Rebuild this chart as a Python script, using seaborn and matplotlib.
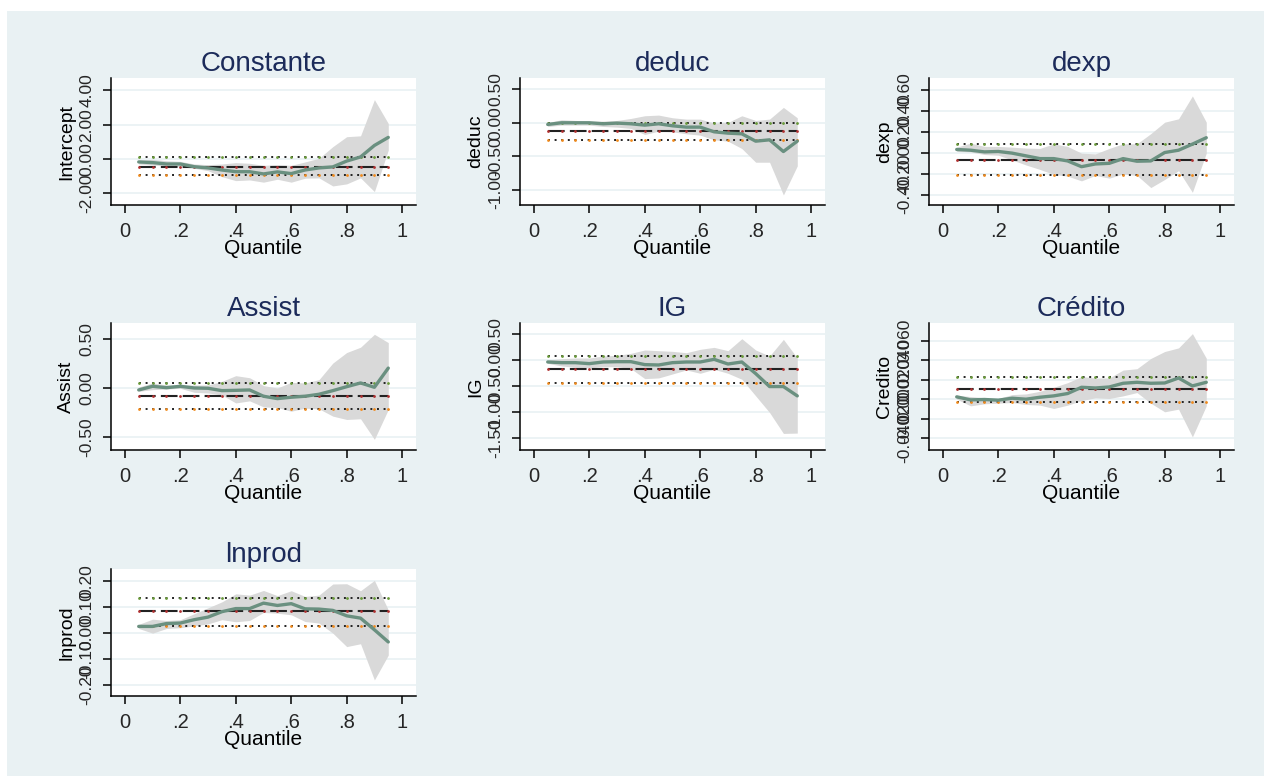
import matplotlib
matplotlib.use("Agg")
import matplotlib.pyplot as plt
import seaborn as sns
import pandas as pd
from matplotlib.patches import Rectangle

# --------------------------------------------------
# Data
# --------------------------------------------------
quantiles = [0.05, 0.10, 0.15, 0.20, 0.25, 0.30, 0.35, 0.40, 0.45, 0.50,
             0.55, 0.60, 0.65, 0.70, 0.75, 0.80, 0.85, 0.90, 0.95]

titles = ["Constante", "deduc", "dexp", "Assist", "IG", "Crédito", "lnprod"]
ylabels = ["Intercept", "deduc", "dexp", "Assist", "IG", "Credito", "lnprod"]

# quantile regression coefficients
const_coef = [-0.17, -0.21, -0.29, -0.29, -0.45, -0.52, -0.64, -0.74, -0.74, -0.87,
              -0.75, -0.85, -0.64, -0.52, -0.46, -0.12, 0.12, 0.79, 1.26]
const_lo = [-0.29, -0.35, -0.41, -0.45, -0.54, -0.68, -1.03, -1.26, -1.22, -1.35,
            -1.18, -1.35, -1.12, -1.10, -1.57, -1.45, -1.10, -1.90, 0.52]
const_hi = [-0.06, -0.02, -0.10, -0.14, -0.29, -0.33, -0.29, -0.21, -0.25, -0.37,
            -0.33, -0.37, -0.17, 0.04, 0.72, 1.30, 1.35, 3.46, 2.07]

deduc_coef = [-0.025, 0.0, 0.0, 0.0, -0.015, -0.005, -0.015, -0.035, -0.015, -0.045,
              -0.065, -0.065, -0.135, -0.155, -0.165, -0.275, -0.255, -0.43, -0.275]
deduc_lo = [-0.055, -0.035, -0.035, -0.035, -0.055, -0.065, -0.085, -0.175, -0.125, -0.135,
            -0.165, -0.185, -0.255, -0.275, -0.385, -0.59, -0.59, -1.08, -0.645]
deduc_hi = [0.005, 0.045, 0.035, 0.025, 0.025, 0.035, 0.065, 0.105, 0.115, 0.075,
            0.055, 0.055, -0.005, 0.005, 0.105, 0.035, 0.055, 0.23, 0.075]

dexp_coef = [0.029, 0.022, 0.006, 0.010, -0.006, -0.032, -0.058, -0.058, -0.080, -0.135,
             -0.109, -0.103, -0.058, -0.083, -0.080, 0.0, 0.022, 0.080, 0.141]
dexp_lo = [0.010, 0.006, -0.019, -0.026, -0.071, -0.119, -0.161, -0.209, -0.225, -0.270,
           -0.218, -0.244, -0.205, -0.218, -0.334, -0.257, -0.173, -0.379, -0.006]
dexp_hi = [0.051, 0.090, 0.058, 0.058, 0.051, 0.042, 0.039, 0.083, 0.058, -0.006,
           -0.013, 0.039, 0.083, 0.083, 0.180, 0.289, 0.321, 0.539, 0.289]

assist_coef = [-0.020, 0.017, 0.003, 0.017, 0.0, -0.003, -0.027, -0.024, -0.020, -0.084,
               -0.108, -0.094, -0.084, -0.064, -0.027, 0.013, 0.051, 0.007, 0.202]
assist_lo = [-0.034, -0.017, -0.010, -0.003, -0.044, -0.051, -0.071, -0.152, -0.131, -0.192,
             -0.199, -0.236, -0.205, -0.212, -0.286, -0.320, -0.313, -0.522, -0.219]
assist_hi = [0.010, 0.051, 0.030, 0.030, 0.030, 0.030, 0.067, 0.125, 0.104, 0.024,
             0.0, 0.057, 0.051, 0.084, 0.253, 0.360, 0.414, 0.545, 0.461]

ig_coef = [-0.032, -0.045, -0.045, -0.064, -0.032, -0.026, -0.026, -0.083, -0.090, -0.045,
           -0.032, -0.032, 0.019, -0.071, -0.032, -0.256, -0.506, -0.506, -0.686]
ig_lo = [-0.058, -0.109, -0.135, -0.147, -0.122, -0.122, -0.160, -0.353, -0.340, -0.263,
         -0.186, -0.250, -0.173, -0.250, -0.365, -0.686, -1.006, -1.410, -1.404]
ig_hi = [0.006, 0.032, 0.045, 0.045, 0.083, 0.096, 0.135, 0.199, 0.186, 0.173,
         0.147, 0.212, 0.250, 0.186, 0.417, 0.199, 0.083, 0.404, 0.045]

cred_coef = [0.0024, -0.0007, -0.0003, -0.0010, 0.0010, 0.0, 0.0020, 0.0034, 0.0058, 0.0122,
             0.0115, 0.0125, 0.0163, 0.0173, 0.0163, 0.0166, 0.0217, 0.0136, 0.0173]
cred_lo = [0.0, -0.0068, -0.0047, -0.0041, -0.0034, -0.0054, -0.0061, -0.0095, -0.0061, -0.0014,
           0.0014, 0.0007, 0.0034, 0.0068, -0.0041, -0.0129, -0.0102, -0.0386, -0.0068]
cred_hi = [0.0041, 0.0027, 0.0014, 0.0007, 0.0047, 0.0054, 0.0081, 0.0122, 0.0169, 0.0231,
           0.0217, 0.0217, 0.0298, 0.0312, 0.0417, 0.0488, 0.0525, 0.0671, 0.0420]

lnprod_coef = [0.026, 0.026, 0.037, 0.039, 0.052, 0.062, 0.083, 0.095, 0.095, 0.116,
               0.107, 0.114, 0.094, 0.093, 0.088, 0.067, 0.058, 0.013, -0.034]
lnprod_lo = [0.018, 0.0, 0.018, 0.021, 0.028, 0.036, 0.052, 0.044, 0.049, 0.080,
             0.077, 0.071, 0.045, 0.039, 0.0, -0.052, -0.041, -0.181, -0.085]
lnprod_hi = [0.034, 0.054, 0.049, 0.052, 0.075, 0.098, 0.121, 0.152, 0.147, 0.165,
             0.145, 0.164, 0.142, 0.147, 0.190, 0.191, 0.164, 0.204, 0.090]

# OLS estimate and its confidence bounds
ols_coef = [-0.44, -0.125, -0.067, -0.081, -0.173, 0.0108, 0.084]
ols_lo = [-0.96, -0.255, -0.218, -0.215, -0.429, -0.0027, 0.027]
ols_hi = [0.10, 0.0, 0.080, 0.054, 0.077, 0.0227, 0.137]

# axis settings
ylims = [(-2.68, 4.72), (-1.23, 0.67), (-0.50, 0.71), (-0.63, 0.66),
         (-1.73, 0.72), (-0.052, 0.078), (-0.243, 0.248)]
yticks = [[-2, 0, 2, 4], [-1.0, -0.5, 0.0, 0.5], [-0.4, -0.2, 0.0, 0.2, 0.4, 0.6],
          [-0.5, 0.0, 0.5], [-1.5, -1.0, -0.5, 0.0, 0.5],
          [-0.04, -0.02, 0.0, 0.02, 0.04, 0.06], [-0.2, -0.1, 0.0, 0.1, 0.2]]
yfmt = ["{:.2f}", "{:.2f}", "{:.2f}", "{:.2f}", "{:.2f}", "{:.3f}", "{:.2f}"]
xticks = [0, 0.2, 0.4, 0.6, 0.8, 1.0]
xticklabels = ["0", ".2", ".4", ".6", ".8", "1"]

coefs = [const_coef, deduc_coef, dexp_coef, assist_coef, ig_coef, cred_coef, lnprod_coef]
lows = [const_lo, deduc_lo, dexp_lo, assist_lo, ig_lo, cred_lo, lnprod_lo]
highs = [const_hi, deduc_hi, dexp_hi, assist_hi, ig_hi, cred_hi, lnprod_hi]

# --------------------------------------------------
# Style
# --------------------------------------------------
sns.set_theme(style="white")
plt.rcParams["font.family"] = ["Liberation Sans", "DejaVu Sans"]

BG = "#E9F1F3"
LINE = "#6A9080"
BAND = "#D9D9D9"
TITLE = "#1C2B5A"

W, H = 1264, 776
fig = plt.figure(figsize=(W / 100, H / 100), dpi=100, facecolor="white")
fig.patches.append(Rectangle((7 / W, 0), 1, (H - 11) / H, transform=fig.transFigure,
                             facecolor=BG, edgecolor="none", zorder=-10))

col_left = [111, 520, 929]
row_top = [78, 323, 569]
box_w, box_h = 305, 127

for i in range(7):
    r, c = divmod(i, 3)
    left = col_left[c] / W
    bottom = 1 - (row_top[r] + box_h) / H
    ax = fig.add_axes([left, bottom, box_w / W, box_h / H])
    ax.set_facecolor("white")

    df = pd.DataFrame({"Quantile": quantiles, "coef": coefs[i],
                       "lo": lows[i], "hi": highs[i]})

    ax.fill_between(df["Quantile"], df["lo"], df["hi"], color=BAND, lw=0, zorder=1)

    # OLS lines across the quantile range
    q0, q1 = quantiles[0], quantiles[-1]
    ax.plot([q0, q1], [ols_coef[i]] * 2, color="#222222", lw=1.5,
            linestyle=(0, (8, 2.5)), zorder=2)
    ax.plot([q0, q1], [ols_hi[i]] * 2, color="#222222", lw=1.4,
            linestyle=(0, (1, 2.4)), zorder=2)
    ax.plot([q0, q1], [ols_lo[i]] * 2, color="#222222", lw=1.4,
            linestyle=(0, (1, 2.4)), zorder=2)
    ax.scatter(quantiles, [ols_coef[i]] * len(quantiles), s=4, color="#B03030", lw=0, zorder=3)
    ax.scatter(quantiles, [ols_hi[i]] * len(quantiles), s=4, color="#6A9A3A", lw=0, zorder=3)
    ax.scatter(quantiles, [ols_lo[i]] * len(quantiles), s=4, color="#F08A1C", lw=0, zorder=3)

    sns.lineplot(data=df, x="Quantile", y="coef", ax=ax, color=LINE, lw=2.4, zorder=4)

    ax.set_xlim(-0.05, 1.05)
    ax.set_ylim(*ylims[i])
    ax.set_xticks(xticks)
    ax.set_xticklabels(xticklabels, fontsize=14.5)
    ax.set_yticks(yticks[i])
    ax.set_yticklabels([yfmt[i].format(v) for v in yticks[i]], fontsize=12.5,
                       rotation=90, va="center")
    for yv in yticks[i]:
        ax.axhline(yv, color=BG, lw=1.2, zorder=0.5)

    ax.tick_params(axis="both", direction="out", length=6, width=1.1, color="black",
                   left=True, bottom=True)
    ax.tick_params(axis="x", pad=6)
    ax.tick_params(axis="y", pad=6)
    for side in ["top", "right"]:
        ax.spines[side].set_visible(False)
    for side in ["left", "bottom"]:
        ax.spines[side].set_color("black")
        ax.spines[side].set_linewidth(1.1)

    ax.set_xlabel("Quantile", fontsize=15, labelpad=-1, color="black")
    ax.set_ylabel(ylabels[i], fontsize=14, labelpad=3, color="black")
    ax.set_title(titles[i], fontsize=20, color=TITLE, pad=5)

fig.savefig("out.png", dpi=100, facecolor=fig.get_facecolor())
plt.close(fig)
